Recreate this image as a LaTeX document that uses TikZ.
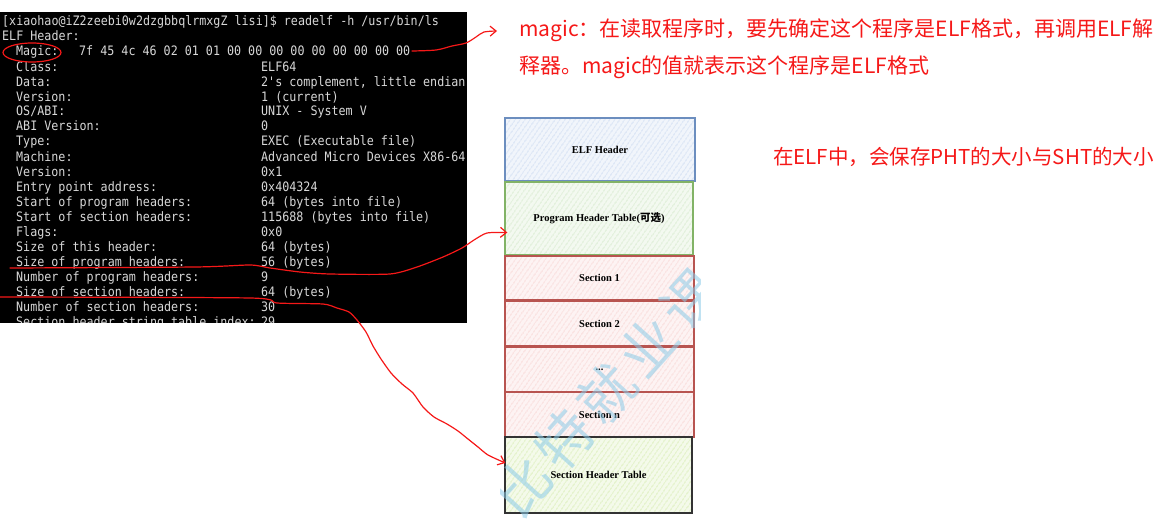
\documentclass[tikz,border=0pt]{standalone}
\usepackage{fontspec}
\setmainfont{Liberation Serif}
\newfontfamily\termfont{DejaVu Sans Mono}[FakeStretch=0.9]
\newfontfamily\cjk{Noto Sans CJK SC}
\newfontfamily\wmfont{Noto Sans CJK SC}[LetterSpace=12]
\usetikzlibrary{arrows.meta,patterns.meta,calc}
\definecolor{termtext}{HTML}{D8D8D8}
\definecolor{annot}{HTML}{F51818}
\definecolor{elfS}{HTML}{6C8EBF}\definecolor{elfH}{HTML}{BFD2EE}
\definecolor{phtS}{HTML}{82B366}\definecolor{phtH}{HTML}{C9E3BD}
\definecolor{secS}{HTML}{B85450}\definecolor{secH}{HTML}{F6C9C7}
\definecolor{shtS}{HTML}{333333}\definecolor{shtH}{HTML}{CDE8A0}
\definecolor{wm}{HTML}{8CCBE8}
\begin{document}
\begin{tikzpicture}[x=1pt,y=-1pt,
  termtxt/.style={anchor=base west,inner sep=0pt,text=termtext,font=\termfont\fontsize{13}{15}\selectfont},
  redtxt/.style={anchor=west,inner sep=0pt,text=annot,font=\cjk\fontsize{21}{24}\selectfont},
  redline/.style={draw=annot,line width=1.2pt,line join=round,line cap=round},
  redtip/.style={-{Straight Barb[length=6pt,width=10pt,line width=1.2pt]}},
  hatchbox/.style 2 args={draw=#1,line width=1.3pt,inner sep=0pt,
     preaction={fill=#2!22!white},
     pattern={Lines[angle=55,distance=4pt,line width=0.7pt]},pattern color=#2,
     font=\bfseries\fontsize{10.5}{12}\selectfont,text=black}
]
\useasboundingbox (0,0) rectangle (1160,519);

% terminal
\node[fill=black,draw=none,minimum width=467pt,minimum height=310.5pt,inner sep=0pt,anchor=north west] (term) at (0,12) {};
\begin{scope}
\clip (0,12) rectangle (467,322.5);
\node[termtxt] (l0) at (2,26) {[xiaohao@iZ2zeebi0w2dzgbbqlrmxgZ lisi]\$ readelf -h /usr/bin/ls};
\node[termtxt] (l1) at (2,41) {ELF Header:};
\node[termtxt] (lab2) at (16,56) {Magic:};
\node[termtxt] (val2) at (79,56) {7f 45 4c 46 02 01 01 00 00 00 00 00 00 00 00 00};
\foreach \lab/\val [count=\k from 3] in {
  Class:/ELF64,
  Data:/{2's complement, little endian},
  Version:/1 (current),
  {OS/ABI:}/{UNIX - System V},
  ABI Version:/0,
  Type:/EXEC (Executable file),
  Machine:/Advanced Micro Devices X86-64,
  Version:/0x1,
  Entry point address:/0x404324,
  Start of program headers:/64 (bytes into file),
  Start of section headers:/115688 (bytes into file),
  Flags:/0x0,
  Size of this header:/64 (bytes),
  Size of program headers:/56 (bytes),
  Number of program headers:/9,
  Size of section headers:/64 (bytes),
  Number of section headers:/30,
  Section header string table index:/29}
{
  \node[termtxt] (lab\k) at (16,26+15*\k) {\lab};
  \node[termtxt] (val\k) at (261,26+15*\k) {\val};
}
\end{scope}

% red annotation texts
\node[redtxt] (magictxt) at (519,30) {magic：在读取程序时，要先确定这个程序是ELF格式，再调用ELF解};
\node[redtxt] (magictxt2) at (519,67) {释器。magic的值就表示这个程序是ELF格式};
\node[redtxt,font=\cjk\fontsize{20.5}{24}\selectfont] (sizetxt) at (773,157) {在ELF中，会保存PHT的大小与SHT的大小};

% ELF layout boxes
\node[hatchbox={elfS}{elfH},minimum width=190pt,minimum height=63pt] (elf) at (600,149.5) {ELF Header};
\node[hatchbox={phtS}{phtH},minimum width=188pt,minimum height=73pt] (pht) at (599,218.5) {Program Header Table({\cjk\bfseries 可选})};
\node[hatchbox={secS}{secH},minimum width=189pt,minimum height=44pt] (s1) at (599.5,278) {Section 1};
\node[hatchbox={secS}{secH},minimum width=189pt,minimum height=45pt] (s2) at (599.5,323.5) {Section 2};
\node[hatchbox={secS}{secH},minimum width=189pt,minimum height=45pt] (sd) at (599.5,369.5) {...};
\node[hatchbox={secS}{secH},minimum width=189pt,minimum height=45pt] (sn) at (599.5,414.5) {Section n};
\node[hatchbox={shtS}{shtH},minimum width=187pt,minimum height=76pt] (sht) at (598.5,475) {Section Header Table};

% watermark
\begin{scope}
\clip (500,105) rectangle (700,519);
\node[rotate=48,text=wm,opacity=0.55,inner sep=0pt,font=\wmfont\fontsize{56}{56}\selectfont] (wmark) at (606,393) {比特就业课};
\end{scope}

% hand drawn red marks
\draw[redline] (32,52.5) ellipse [x radius=29, y radius=9.5];
\coordinate (m0) at (412,51);
\coordinate (m1) at (497,31);
\draw[redline,redtip] plot[smooth,tension=0.5] coordinates {(m0) (436,50) (452,46) (466,43) (476,37) (484,32) (m1)};

\coordinate (p0) at (10,268);
\coordinate (p1) at ($(pht.west)+(3,14)$);
\draw[redline,redtip] plot[smooth,tension=0.4] coordinates {(p0) (195,267) (250,265) (270,268) (300,272) (330,274) (390,274) (417,267) (443,257) (462,248) (474,240) (487,233) (p1)};

\coordinate (q0) at (0,297);
\coordinate (q1) at ($(sht.west)+(1,-12)$);
\draw[redline,redtip] plot[smooth,tension=0.4] coordinates {(q0) (250,298) (277,303) (323,304) (337,308) (349,312) (357,320) (366,332) (373,346) (381,359) (391,373) (402,384) (413,393) (423,407) (434,417) (447,424) (458,431) (468,439) (478,447) (488,455) (q1)};
\end{tikzpicture}
\end{document}
